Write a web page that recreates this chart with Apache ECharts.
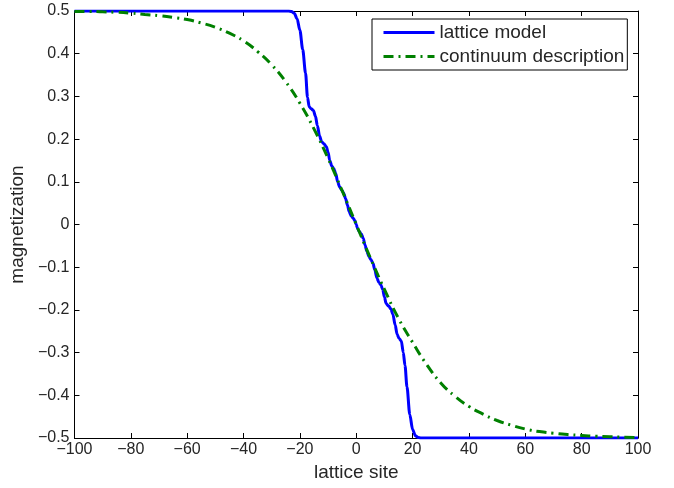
<!DOCTYPE html>
<html style="height: 100%">
<head>
    <meta charset="utf-8">
    <title>magnetization profile</title>
    <script type="text/javascript" src="https://cdn.jsdelivr.net/npm/echarts@6/dist/echarts.min.js"></script>
</head>
<body style="width: 100%;margin: 0;height: 100%;background: #fff">
<div id="container" style="width: 674px;height: 488px"></div>
<script type="application/javascript">

    // lattice model
    var latticeX = [-100, -60, -30, -24, -23, -22, -21, -20, -19, -18, -17.3, -16.7, -16, -15.2, -14.5, -13.8, -13, -12.3,
        -11.5, -10.6, -10, -9.4, -8.7, -8, -7.3, -6.6, -5.9, -5.2, -4.5, -3.8, -3.1, -2.5, -1.8, -1, -0.4, 0,
        0.4, 1, 1.8, 2.5, 3.1, 3.8, 4.5, 5.2, 5.9, 6.6, 7.3, 8, 8.7, 9.4, 10, 10.6, 11.5, 12.3, 13, 13.8, 14.5,
        15.2, 16, 16.7, 17.3, 18, 19, 20, 21, 22, 23, 24, 30, 60, 100];
    var latticeY = [0.5, 0.5, 0.5, 0.5, 0.499, 0.495, 0.482, 0.455, 0.41, 0.355, 0.298, 0.276, 0.271, 0.267, 0.254, 0.232, 0.207, 0.194,
        0.189, 0.182, 0.169, 0.15, 0.137, 0.131, 0.12, 0.1, 0.088, 0.081, 0.074, 0.061, 0.045, 0.03, 0.02, 0.014, 0.008, 0,
        -0.008, -0.016, -0.022, -0.033, -0.048, -0.063, -0.075, -0.082, -0.09, -0.106, -0.125, -0.135, -0.141, -0.152, -0.17, -0.185, -0.191, -0.198, -0.21, -0.235, -0.257,
        -0.267, -0.273, -0.3, -0.33, -0.38, -0.445, -0.48, -0.495, -0.499, -0.5, -0.5, -0.5, -0.5, -0.5];

    // continuum description
    var contX = [-100, -95, -90, -85, -80, -75, -70, -65, -60, -55, -50, -45, -40, -35, -30, -25, -20, -15, -10, -5, 0,
        5, 10, 15, 20, 25, 30, 35, 40, 45, 50, 55, 60, 65, 70, 75, 80, 85, 90, 95, 100];
    var contY = [0.499, 0.499, 0.498, 0.497, 0.495, 0.492, 0.489, 0.485, 0.48, 0.472, 0.462, 0.448, 0.43, 0.405, 0.374, 0.334, 0.284, 0.224, 0.155, 0.079, 0,
        -0.078, -0.152, -0.22, -0.276, -0.328, -0.371, -0.402, -0.426, -0.444, -0.459, -0.47, -0.479, -0.485, -0.489, -0.492, -0.494, -0.496, -0.497, -0.498, -0.499];

    var xTicks = [-100, -80, -60, -40, -20, 0, 20, 40, 60, 80, 100];
    var yTicks = [-0.5, -0.4, -0.3, -0.2, -0.1, 0, 0.1, 0.2, 0.3, 0.4, 0.5];

    function pairs(xs, ys) {
        var out = [];
        for (var i = 0; i < xs.length; i++) {
            out.push([xs[i], ys[i]]);
        }
        return out;
    }

    function fmt(v) {
        var s = String(Math.round(v * 10) / 10);
        return s.replace('-', '\u2212');
    }

    var font = 'Liberation Sans, Arial, Helvetica, sans-serif';
    var textColor = '#262626';

    function axisBase(show) {
        return {
            type: 'value',
            splitLine: {show: false},
            axisLine: {show: true, onZero: false, lineStyle: {color: '#000', width: 1}},
            axisTick: {show: true, inside: true, length: 5, lineStyle: {color: '#000'}},
            axisLabel: {show: show, color: textColor, fontSize: 16, fontFamily: font, formatter: fmt}
        };
    }

    var xBottom = axisBase(true);
    xBottom.position = 'bottom';
    xBottom.min = xTicks[0];
    xBottom.max = xTicks[xTicks.length - 1];
    xBottom.interval = 20;
    xBottom.axisLabel.margin = 4;
    xBottom.name = 'lattice site';
    xBottom.nameLocation = 'middle';
    xBottom.nameGap = 23;
    xBottom.nameTextStyle = {fontSize: 19, color: textColor, fontFamily: font};

    var xTop = axisBase(false);
    xTop.position = 'top';
    xTop.min = xTicks[0];
    xTop.max = xTicks[xTicks.length - 1];
    xTop.interval = 20;

    var yLeft = axisBase(true);
    yLeft.position = 'left';
    yLeft.min = yTicks[0];
    yLeft.max = yTicks[yTicks.length - 1];
    yLeft.interval = 0.1;
    yLeft.axisLabel.margin = 5;
    yLeft.name = 'magnetization';
    yLeft.nameLocation = 'middle';
    yLeft.nameGap = 40;
    yLeft.nameTextStyle = {fontSize: 19, color: textColor, fontFamily: font};

    var yRight = axisBase(false);
    yRight.position = 'right';
    yRight.min = yTicks[0];
    yRight.max = yTicks[yTicks.length - 1];
    yRight.interval = 0.1;

    var dom = document.getElementById("container");
    var myChart = echarts.init(dom, null, {renderer: 'canvas'});

    var option = {
        animation: false,
        backgroundColor: '#fff',
        grid: {left: 74, right: 36, top: 11, bottom: 50},
        legend: {
            orient: 'vertical',
            left: 372,
            top: 19,
            padding: [4, 3, 4, 10],
            itemGap: 5,
            itemWidth: 51,
            itemHeight: 14,
            borderColor: '#000',
            borderWidth: 1,
            backgroundColor: '#fff',
            itemStyle: {opacity: 0},
            lineStyle: {width: 3},
            textStyle: {fontSize: 19, color: textColor, fontFamily: font},
            data: ['lattice model', 'continuum description']
        },
        xAxis: [xBottom, xTop],
        yAxis: [yLeft, yRight],
        series: [
            {
                name: 'lattice model',
                type: 'line',
                xAxisIndex: 0,
                yAxisIndex: 0,
                symbol: 'none',
                smooth: 0.3,
                smoothMonotone: 'x',
                lineStyle: {color: '#0000ff', width: 3},
                itemStyle: {color: '#0000ff'},
                data: pairs(latticeX, latticeY)
            },
            {
                name: 'continuum description',
                type: 'line',
                xAxisIndex: 0,
                yAxisIndex: 0,
                symbol: 'none',
                smooth: true,
                lineStyle: {color: '#008000', width: 3, type: [10, 5, 2, 5]},
                itemStyle: {color: '#008000'},
                data: pairs(contX, contY)
            }
        ]
    };

    myChart.setOption(option, true);
</script>
</body>
</html>
